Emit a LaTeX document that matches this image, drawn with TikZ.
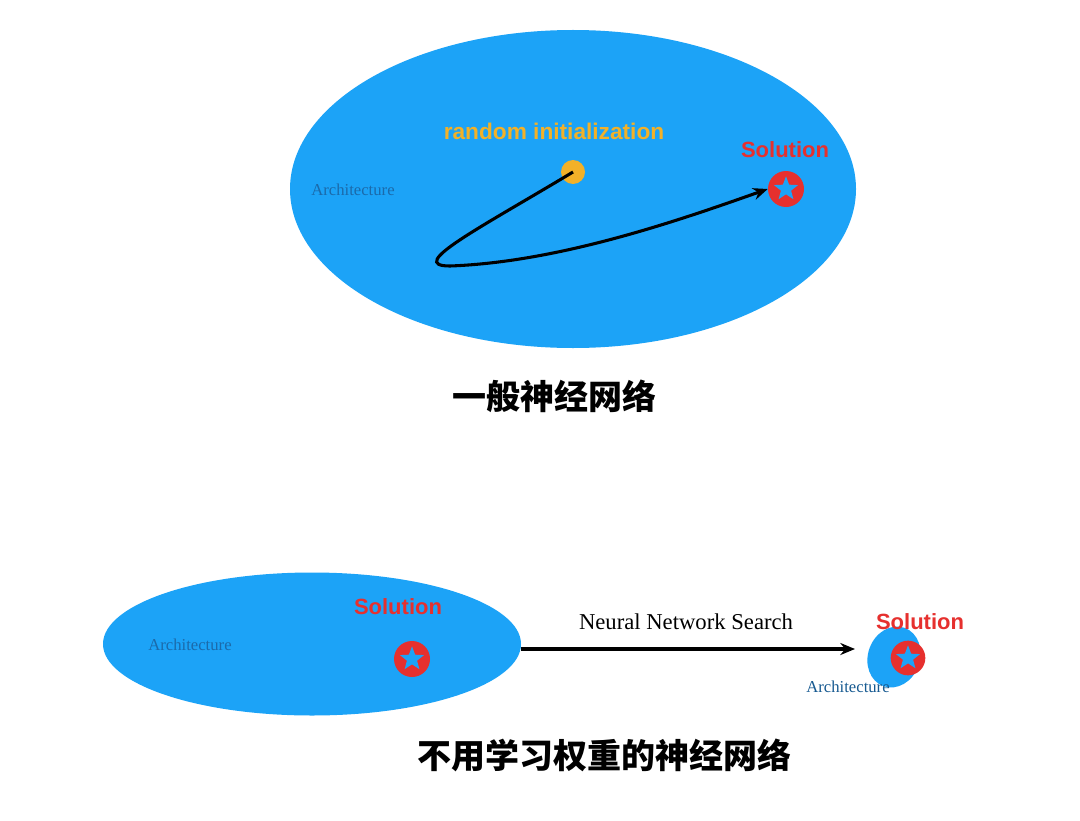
\documentclass[tikz,border=0pt]{standalone}
\usepackage{fontspec}
\setmainfont{Liberation Serif}
\newfontfamily\sansb{Liberation Sans}
\newfontfamily\cjk{Noto Sans CJK SC}
\usetikzlibrary{shapes.geometric,arrows.meta,calc}
\definecolor{skyblue}{HTML}{1CA3F7}
\definecolor{archcol}{HTML}{1B6AAA}
\definecolor{solred}{HTML}{E6302E}
\definecolor{initorg}{HTML}{F2B128}
\tikzset{
  space/.style={ellipse, fill=skyblue, draw=none, inner sep=0pt},
  archlabel/.style={text=archcol, font=\fontsize{12.5}{14}\selectfont},
  sollabel/.style={text=solred, font=\sansb\bfseries\fontsize{16.5}{18}\selectfont},
  solpt/.style={circle, fill=solred, minimum size=27pt, inner sep=0pt},
  startpt/.style={circle, fill=initorg, minimum size=18pt, inner sep=0pt},
  title/.style={font=\cjk\bfseries\fontsize{25.5}{28}\selectfont},
  arr/.style={-{Stealth[length=11pt,width=9pt]}, line width=2.3pt, black},
}
\newcommand{\solstar}[1]{\fill[skyblue] #1 ++(90:9.5pt)
  \foreach \k in {1,...,9}{ -- ($#1+(90+\k*36:{mod(\k,2)==1?4pt:9.5pt})$)} -- cycle;}
\begin{document}
\begin{tikzpicture}[x=0.75pt,y=-0.75pt]
\useasboundingbox (0,0) rectangle (1080,820);
\fill[white] (0,0) rectangle (1080,820);
% top space
\node[space, minimum width=566*0.75pt, minimum height=318*0.75pt] (top) at (573,189) {};
\node[archlabel] (archA) at (353,190) {Architecture};
\node[startpt] (init) at (573,172) {};
\node[text=initorg, font=\sansb\bfseries\fontsize{17}{19}\selectfont] (initlbl) at (554,131) {random initialization};
\node[solpt] (solA) at (786,189) {};
\solstar{(solA)}
\node[sollabel] (solAlbl) at (785,150) {Solution};
\draw[arr] (init.center) .. controls (480,228) and (405,266) .. (450,266)
  .. controls (560,262) and (680,220) .. (solA.west);
\node[title] (t1) at (554,396) {一般神经网络};
% bottom
\node[space, minimum width=418*0.75pt, minimum height=143*0.75pt] (big) at (312,644) {};
\node[archlabel] (archB) at (190,645) {Architecture};
\node[solpt] (solB) at (412,659) {};
\solstar{(solB)}
\node[sollabel] (solBlbl) at (398,607) {Solution};
\node[space, minimum width=52*0.75pt, minimum height=62*0.75pt, rotate=-20] (small) at (894,657) {};
\coordinate (arrEnd) at (855,649);
\draw[arr] (big.east |- 0,649) -- (arrEnd);
\node[font=\fontsize{17}{19}\selectfont] (nns) at (686,622) {Neural Network Search};
\node[solpt, minimum size=26pt] (solC) at (908,658) {};
\solstar{(solC)}
\node[sollabel] (solClbl) at (920,622) {Solution};
\node[archlabel, text=archcol!85!black] (archC) at (848,687) {Architecture};
\node[title] (t2) at (604,755) {不用学习权重的神经网络};
\end{tikzpicture}
\end{document}
